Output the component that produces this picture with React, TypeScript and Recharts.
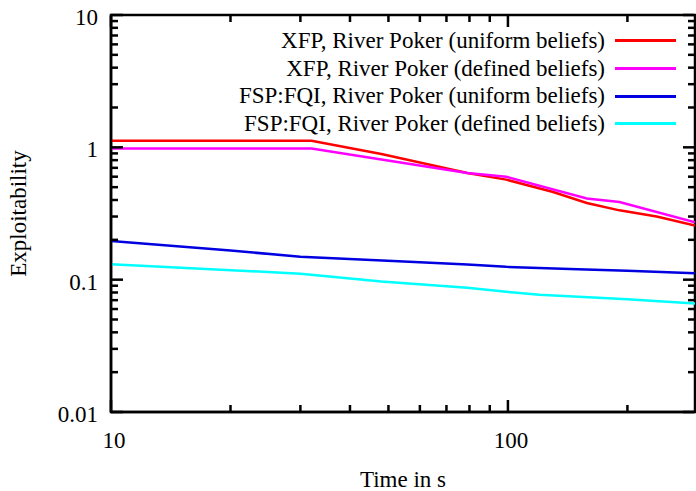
import { Legend, Line, LineChart, ReferenceArea, XAxis, YAxis } from 'recharts'

const FONT = "'Liberation Serif', 'Times New Roman', Times, serif"

const COLORS = {
  xfpUniform: '#ff0000',
  xfpDefined: '#ff00ff',
  fqiUniform: '#0000e0',
  fqiDefined: '#00ffff',
  axis: '#000000',
}

// time in seconds (x) vs exploitability (y)
const xfpUniformTime = [10, 32, 48, 79, 99, 130, 158, 191, 237, 296]
const xfpUniformExpl = [1.12, 1.12, 0.89, 0.64, 0.57, 0.46, 0.38, 0.334, 0.30, 0.257]

const xfpDefinedTime = [10, 32, 48, 79, 99, 158, 191, 296]
const xfpDefinedExpl = [0.98, 0.98, 0.81, 0.64, 0.6, 0.41, 0.386, 0.271]

const fqiUniformTime = [10, 20, 30, 53, 79, 99, 150, 200, 296]
const fqiUniformExpl = [0.196, 0.166, 0.149, 0.138, 0.13, 0.125, 0.12, 0.117, 0.112]

const fqiDefinedTime = [10, 30, 48, 79, 99, 120, 200, 296]
const fqiDefinedExpl = [0.131, 0.111, 0.097, 0.087, 0.081, 0.077, 0.071, 0.066]

const seriesNames = [
  'XFP, River Poker (uniform beliefs)',
  'XFP, River Poker (defined beliefs)',
  'FSP:FQI, River Poker (uniform beliefs)',
  'FSP:FQI, River Poker (defined beliefs)',
]

const X_MIN = 10
const X_MAX = 296
const Y_MIN = 0.01
const Y_MAX = 10

const xMajor = [10, 100]
const xTicks = [10, 20, 30, 40, 50, 60, 70, 80, 90, 100, 200]
const yMajor = [0.01, 0.1, 1, 10]
const yTicks = [
  0.01, 0.02, 0.03, 0.04, 0.05, 0.06, 0.07, 0.08, 0.09,
  0.1, 0.2, 0.3, 0.4, 0.5, 0.6, 0.7, 0.8, 0.9,
  1, 2, 3, 4, 5, 6, 7, 8, 9, 10,
]

const zip = (xs: number[], ys: number[]) => xs.map((t, i) => ({ t, e: ys[i] }))

const series = [
  { name: seriesNames[0], color: COLORS.xfpUniform, data: zip(xfpUniformTime, xfpUniformExpl) },
  { name: seriesNames[1], color: COLORS.xfpDefined, data: zip(xfpDefinedTime, xfpDefinedExpl) },
  { name: seriesNames[2], color: COLORS.fqiUniform, data: zip(fqiUniformTime, fqiUniformExpl) },
  { name: seriesNames[3], color: COLORS.fqiDefined, data: zip(fqiDefinedTime, fqiDefinedExpl) },
]

const W = 696
const H = 491
const MARGIN = { top: 15, right: 1, bottom: 0, left: 0 }
const Y_AXIS_W = 111
const X_AXIS_H = 79
const PLOT_W = W - MARGIN.left - MARGIN.right - Y_AXIS_W
const PLOT_H = H - MARGIN.top - MARGIN.bottom - X_AXIS_H

const MAJOR = 12
const MINOR = 7
const TICK_W = 2.5
const FS = 23

// gnuplot style: ticks point inward and are mirrored on the top/right border
function XTick(props: any) {
  const x = Number(props.x)
  const y = Number(props.y)
  const major = xMajor.includes(props.payload.value)
  const len = major ? MAJOR : MINOR
  const top = y - PLOT_H
  return (
    <g>
      <line x1={x} x2={x} y1={y} y2={y - len} stroke="#000" strokeWidth={TICK_W} />
      <line x1={x} x2={x} y1={top + 1} y2={top + len} stroke="#000" strokeWidth={TICK_W} />
      {major && (
        <text x={x + 3} y={y + 36} textAnchor="middle"
          style={{ fontFamily: FONT, fontSize: FS }} fill="#000">{String(props.payload.value)}</text>
      )}
    </g>
  )
}

function YTick(props: any) {
  const x = Number(props.x)
  const y = Number(props.y)
  const major = yMajor.includes(props.payload.value)
  const len = major ? MAJOR : MINOR
  const right = x + PLOT_W
  return (
    <g>
      <line x1={x} x2={x + len} y1={y} y2={y} stroke="#000" strokeWidth={TICK_W} />
      <line x1={right - 1} x2={right - len} y1={y} y2={y} stroke="#000" strokeWidth={TICK_W} />
      {major && (
        <text x={x - 13} y={y + 10} textAnchor="end"
          style={{ fontFamily: FONT, fontSize: FS }} fill="#000">{String(props.payload.value)}</text>
      )}
    </g>
  )
}

function LegendBox() {
  return (
    <div style={{ fontFamily: FONT, fontSize: FS, color: '#000' }}>
      {series.map((s) => (
        <div key={s.name} style={{
          display: 'flex', alignItems: 'center', justifyContent: 'flex-end',
          height: 27.7, whiteSpace: 'nowrap',
        }}>
          <span>{s.name}</span>
          <span style={{
            display: 'inline-block', width: 61, height: 3,
            background: s.color, marginLeft: 10,
          }} />
        </div>
      ))}
    </div>
  )
}

export default function App() {
  const axisLine = { stroke: COLORS.axis, strokeWidth: 2.5 }
  return (
    <div>
      <style>{'body{margin:0}'}</style>
      <LineChart width={W} height={H} margin={MARGIN}>
        {/* frame round the plot area */}
        <ReferenceArea x1={X_MIN} x2={X_MAX} y1={Y_MIN} y2={Y_MAX}
          fill="none" fillOpacity={0} stroke="#000" strokeWidth={2.5}
          strokeOpacity={1} ifOverflow="visible" />
        <XAxis dataKey="t" type="number" scale="log" domain={[X_MIN, X_MAX]}
          allowDataOverflow ticks={xTicks} interval={0} height={X_AXIS_H}
          tickSize={0} tickMargin={0} tickLine={false} axisLine={axisLine}
          tick={XTick}
          label={{
            content: ({ viewBox }: any) => (
              <text x={viewBox.x + viewBox.width / 2} y={viewBox.y + 75}
                textAnchor="middle" style={{ fontFamily: FONT, fontSize: FS }} fill="#000">
                Time in s
              </text>
            ),
          }} />
        <YAxis dataKey="e" type="number" scale="log" domain={[Y_MIN, Y_MAX]}
          allowDataOverflow ticks={yTicks} interval={0} width={Y_AXIS_W}
          tickSize={0} tickMargin={0} tickLine={false} axisLine={axisLine}
          tick={YTick}
          label={{
            content: ({ viewBox }: any) => {
              const cx = viewBox.x + 18
              const cy = viewBox.y + viewBox.height / 2
              return (
                <text x={cx} y={cy} transform={`rotate(-90 ${cx} ${cy})`}
                  textAnchor="middle" dominantBaseline="central"
                  style={{ fontFamily: FONT, fontSize: FS }} fill="#000">
                  Exploitability
                </text>
              )
            },
          }} />
        <Legend layout="horizontal" verticalAlign="middle" align="center"
          wrapperStyle={{ top: 27, left: 0, width: 676 }}
          content={() => <LegendBox />} />
        {series.map((s) => (
          <Line key={s.name} data={s.data} dataKey="e"
            name={s.name} stroke={s.color} strokeWidth={2.5} dot={false}
            type="linear" isAnimationActive={false} />
        ))}
      </LineChart>
    </div>
  )
}
